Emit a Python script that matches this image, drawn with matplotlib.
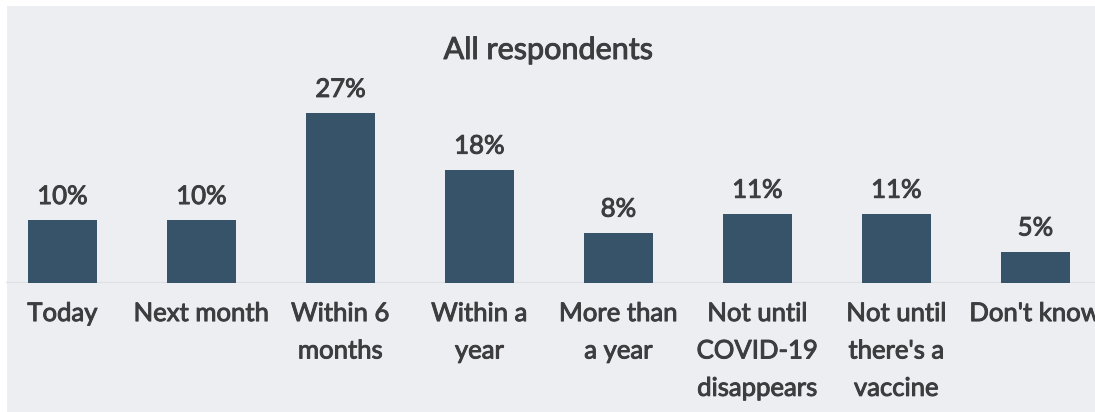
import matplotlib.pyplot as plt
import matplotlib.patheffects as pe
from matplotlib.patches import Rectangle

# survey answers: when will you feel comfortable again
categories = ["Today", "Next month", "Within 6\nmonths", "Within a\nyear",
              "More than\na year", "Not until\nCOVID-19\ndisappears",
              "Not until\nthere's a\nvaccine", "Don't know"]
shares = [10, 10, 27, 18, 8, 11, 11, 5]

BAR = "#36536a"
TEXT = "#3d3d3f"

plt.rcParams['font.family'] = ['Lato', 'DejaVu Sans']

# a thin outline gives the text a medium weight
heavy = [pe.withStroke(linewidth=0.7, foreground=TEXT)]

fig = plt.figure(figsize=(10.95, 4.12), dpi=100)
fig.patch.set_facecolor("white")

# light panel behind the chart
fig.patches.append(Rectangle((7 / 1095, 0), 1, (412 - 6) / 412,
                             transform=fig.transFigure, facecolor="#eceef2",
                             edgecolor="none", zorder=-5))

ax = fig.add_axes([0, 129 / 412, 1, 283 / 412])
ax.set_facecolor("none")

x = list(range(len(categories)))
ax.bar(x, shares, width=0.5, color=BAR, zorder=3)
for xi, v in zip(x, shares):
    ax.annotate(f"{v}%", (xi, v), xytext=(0, 11.5), textcoords="offset points",
                ha="center", va="baseline", fontsize=18.5, color=TEXT,
                path_effects=heavy)

ax.axhline(0, xmin=7 / 1095, color="#dcdfe4", lw=1.5, zorder=2)

ax.set_xlim(-62.5 / 139, (1095 - 62.5) / 139)
ax.set_ylim(0, 283 / 6.3)
ax.set_xticks(x)
ax.set_xticklabels(categories, fontsize=18.5, color=TEXT, linespacing=1.62)
for lab in ax.get_xticklabels():
    lab.set_path_effects(heavy)
ax.tick_params(axis="x", length=0, pad=13)
ax.set_yticks([])
for s in ax.spines.values():
    s.set_visible(False)

fig.text(548 / 1095, (412 - 59) / 412, "All respondents", ha="center",
         va="baseline", fontsize=22, color=TEXT, path_effects=heavy)

fig.savefig("out.png", dpi=100)
